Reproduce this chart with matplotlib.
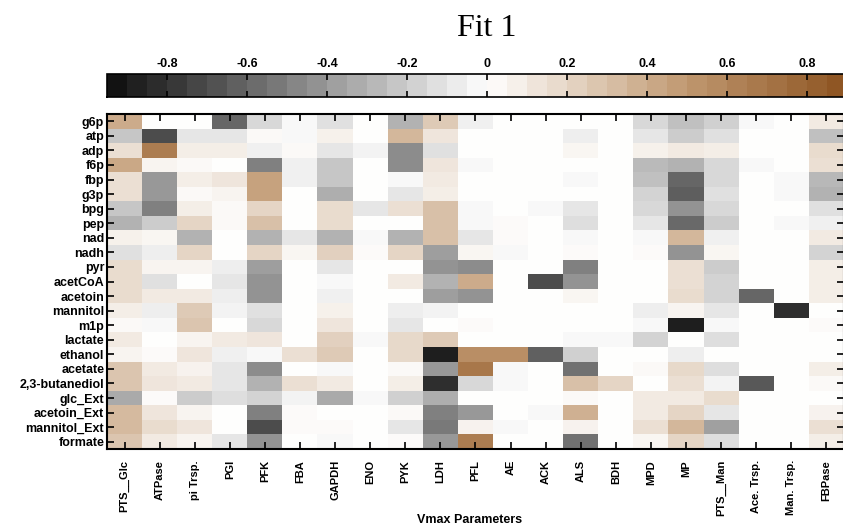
import numpy as np
import matplotlib
matplotlib.use("Agg")
import matplotlib.pyplot as plt
from matplotlib.colors import LinearSegmentedColormap, Normalize
from matplotlib.cm import ScalarMappable

# Vmax parameters (columns) and metabolites (rows)
params = ['PTS__Glc', 'ATPase', 'pi Trsp.', 'PGI', 'PFK', 'FBA', 'GAPDH', 'ENO', 'PYK',
          'LDH', 'PFL', 'AE', 'ACK', 'ALS', 'BDH', 'MPD', 'MP', 'PTS__Man',
          'Ace. Trsp.', 'Man. Trsp.', 'FBPase']
metabolites = ['g6p', 'atp', 'adp', 'f6p', 'fbp', 'g3p', 'bpg', 'pep', 'nad', 'nadh', 'pyr',
               'acetCoA', 'acetoin', 'mannitol', 'm1p', 'lactate', 'ethanol', 'acetate',
               '2,3-butanediol', 'glc_Ext', 'acetoin_Ext', 'mannitol_Ext', 'formate']

# values, one list per metabolite
g6p = [0.4, 0, 0, -0.6, -0.15, -0.03, -0.12, 0, -0.3, 0.25, -0.06, 0, 0, 0, 0, -0.15, -0.25, -0.18, -0.03, 0, 0.1]
atp = [-0.22, -0.7, -0.1, -0.1, 0.03, -0.03, 0.07, 0, 0.35, 0.12, 0, 0, 0, -0.07, 0, -0.1, -0.2, -0.12, 0, 0, -0.25]
adp = [0.15, 0.65, 0.08, 0.08, -0.06, 0.03, -0.1, -0.04, -0.45, -0.12, 0, 0, 0, 0.04, 0, 0.07, 0.1, 0.08, 0, 0, 0.17]
f6p = [0.42, 0.05, 0.03, 0, -0.5, -0.06, -0.22, 0, -0.45, 0.12, -0.03, 0, 0, 0, 0, -0.27, -0.3, -0.15, -0.03, 0, 0.15]
fbp = [0.15, -0.4, 0.08, 0.12, 0.45, -0.06, -0.22, 0, -0.03, 0.1, 0, 0, 0, -0.03, 0, -0.25, -0.6, -0.15, 0, -0.03, -0.28]
g3p = [0.15, -0.4, 0.03, 0.05, 0.45, 0, -0.32, 0, -0.1, 0.08, 0, 0, 0, 0, 0, -0.17, -0.63, -0.12, 0, -0.03, -0.3]
bpg = [-0.22, -0.5, 0.08, 0.03, 0.2, 0, 0.17, -0.1, 0.15, 0.3, -0.03, 0, -0.03, -0.1, 0, -0.15, -0.42, -0.15, 0, 0, -0.12]
pep = [-0.3, -0.2, 0.2, 0.03, 0.3, 0, 0.17, 0, 0, 0.3, -0.03, 0.02, 0, -0.13, 0, -0.1, -0.58, -0.2, 0, -0.03, -0.06]
nad = [0.07, 0.04, -0.3, 0, -0.3, -0.1, -0.3, -0.03, -0.3, 0.3, -0.1, 0.02, 0, -0.03, 0, -0.03, 0.35, -0.06, 0, 0, 0.1]
nadh = [-0.12, -0.07, 0.2, 0, 0.2, 0.04, 0.22, 0.02, 0.2, -0.38, 0.04, -0.03, 0, 0.02, 0, 0.02, -0.42, 0.04, 0, 0, -0.17]
pyr = [0.17, 0.05, 0.05, -0.07, -0.38, 0, -0.1, 0, 0, -0.42, -0.45, 0, 0, -0.5, 0, 0, 0.15, -0.2, 0, 0, 0.08]
acetCoA = [0.17, -0.12, 0, -0.1, -0.42, 0, -0.03, 0, 0.1, -0.3, 0.4, 0, -0.7, -0.42, 0, 0, 0.15, -0.17, 0, 0, 0.08]
acetoin = [0.17, 0.1, 0.1, -0.07, -0.42, 0, -0.06, 0, 0, -0.38, -0.42, 0, 0, 0.04, 0, 0, 0.17, -0.17, -0.6, 0, 0.08]
mannitol = [0.08, -0.07, 0.25, -0.04, -0.12, 0, 0.07, 0, -0.07, -0.04, 0, 0, 0, 0, 0, -0.07, 0.05, -0.1, 0, -0.82, 0]
m1p = [0.03, -0.03, 0.28, 0, -0.15, 0, 0.12, 0, -0.1, 0, 0.02, 0, 0, 0, 0, -0.03, -0.88, -0.03, 0, 0, 0.02]
lactate = [0.1, 0, 0.05, 0.1, 0.12, 0, 0.22, -0.03, 0.18, 0.25, 0, 0, 0, -0.03, -0.03, -0.17, 0, -0.13, 0, 0, 0]
ethanol = [0.05, 0.02, 0.12, -0.06, -0.03, 0.15, 0.25, 0, 0.18, -0.88, 0.55, 0.55, -0.62, -0.18, 0, 0, -0.07, 0, 0, 0, 0]
acetate = [0.28, 0.1, 0.06, -0.1, -0.45, 0, -0.03, 0, 0.03, -0.4, 0.68, -0.03, 0, -0.55, 0, 0.03, 0.18, -0.13, 0, 0, 0.08]
butanediol = [0.28, 0.12, 0.1, -0.1, -0.3, 0.15, 0.1, 0, 0.08, -0.82, -0.15, -0.03, 0, 0.3, 0.2, 0, 0.15, -0.04, -0.65, 0, 0.03]
glc_Ext = [-0.33, 0.02, -0.2, -0.13, -0.17, -0.04, -0.33, -0.03, -0.18, -0.32, 0, 0, 0, 0.03, 0, 0.1, 0.1, 0.17, 0, 0, 0]
acetoin_Ext = [0.33, 0.12, 0.05, 0, -0.5, 0.02, 0, 0, 0.03, -0.5, -0.4, 0, -0.03, 0.38, 0, 0.1, 0.2, -0.1, 0, 0, 0.06]
mannitol_Ext = [0.33, 0.17, 0.12, 0, -0.7, 0.02, 0.02, 0, -0.1, -0.52, 0.06, -0.03, 0, 0.06, 0, 0.15, 0.35, -0.37, 0, 0, 0.15]
formate = [0.28, 0.1, 0.05, -0.1, -0.42, 0, -0.03, 0, 0.02, -0.4, 0.65, 0, 0, -0.55, 0, 0.04, 0.2, -0.13, 0, 0, 0.08]

data = np.array([g6p, atp, adp, f6p, fbp, g3p, bpg, pep, nad, nadh, pyr, acetCoA, acetoin,
                 mannitol, m1p, lactate, ethanol, acetate, butanediol, glc_Ext,
                 acetoin_Ext, mannitol_Ext, formate])

plt.rcParams['font.family'] = ['Liberation Sans', 'DejaVu Sans']

# black -> white -> brown
cmap = LinearSegmentedColormap.from_list('bwbr', [
    (0.0, (0, 0, 0)),
    (0.5, (1, 1, 1)),
    (0.75, (192 / 255, 152 / 255, 112 / 255)),
    (1.0, (128 / 255, 66 / 255, 12 / 255)),
])
norm = Normalize(vmin=-1, vmax=1)

W, H = 843, 529
fig = plt.figure(figsize=(W / 100, H / 100), dpi=100)

# heatmap
ax = fig.add_axes([107 / W, 1 - 449 / H, 737 / W, 335 / H])
ax.imshow(data, cmap=cmap, norm=norm, aspect='auto', interpolation='nearest')
ax.set_xticks(np.arange(len(params)))
ax.set_xticklabels(params, rotation=90, fontsize=8, fontweight='bold')
ax.set_yticks(np.arange(len(metabolites)))
ax.set_yticklabels(metabolites, fontsize=9, fontweight='bold')
ax.tick_params(axis='x', direction='in', top=True, bottom=True, length=5, width=1.2, pad=8)
ax.tick_params(axis='y', direction='in', left=True, right=True, length=5, width=1.2, pad=2)
for s in ax.spines.values():
    s.set_linewidth(1.5)
ax.set_xlabel('Vmax Parameters', fontsize=9, fontweight='bold')
ax.xaxis.set_label_coords((470 - 107) / 737, (449 - 514) / 335)

# colorbar
cax = fig.add_axes([107 / W, 1 - 97 / H, 760 / W, 23 / H])
sm = ScalarMappable(norm=norm, cmap=cmap)
cb = fig.colorbar(sm, cax=cax, orientation='horizontal',
                  boundaries=np.linspace(-0.95, 0.95, 39))
ticks = [-0.8, -0.6, -0.4, -0.2, 0, 0.2, 0.4, 0.6, 0.8]
cb.set_ticks(ticks)
cb.set_ticklabels(['-0.8', '-0.6', '-0.4', '-0.2', '0', '0.2', '0.4', '0.6', '0.8'])
cax.xaxis.set_ticks_position('both')
cax.tick_params(axis='x', direction='in', length=4, width=1.2, labeltop=True,
                labelbottom=False, labelsize=9, pad=3)
for lbl in cax.get_xticklabels():
    lbl.set_fontweight('bold')
cb.outline.set_linewidth(1.2)

fig.text(487 / W, 1 - 28 / H, 'Fit 1', ha='center', va='center', fontsize=23,
         family='Liberation Serif')

fig.savefig('out.png', dpi=100)
